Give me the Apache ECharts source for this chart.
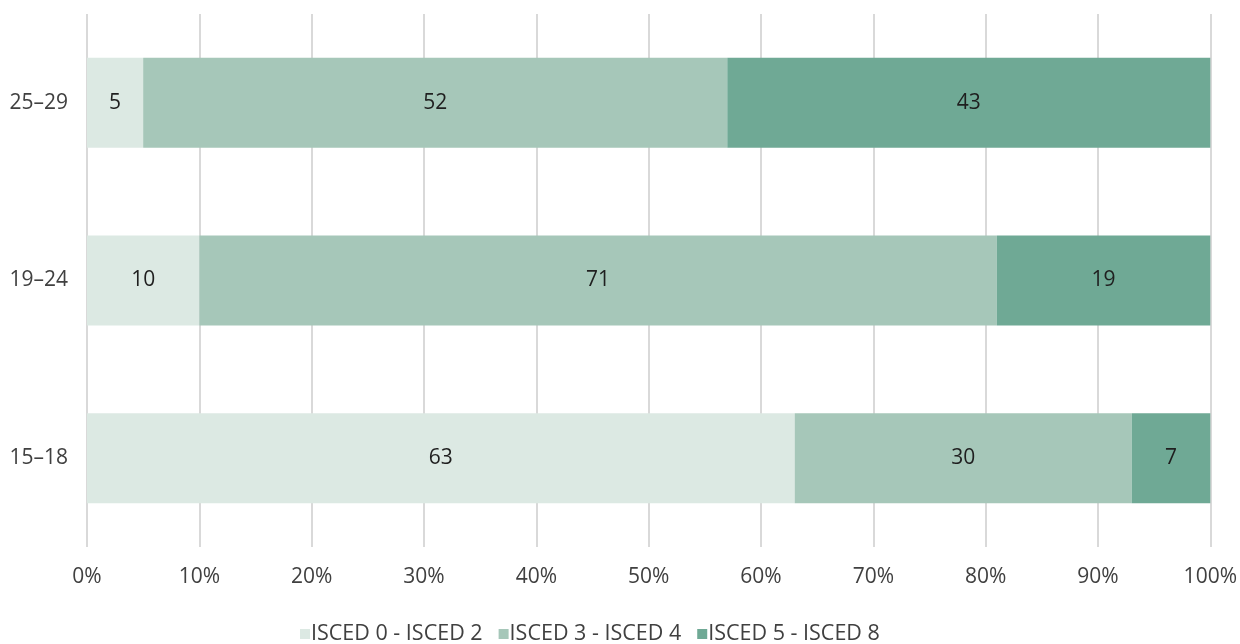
<!DOCTYPE html>
<html><head><meta charset="utf-8">
<script src="https://cdn.jsdelivr.net/npm/echarts@6/dist/echarts.min.js"></script>
<style>html,body{margin:0;padding:0;background:#fff}#c{width:1240px;height:644px}</style>
</head><body><div id="c"></div>
<script>
const categories = ['15–18', '19–24', '25–29'];
const seriesNames = ['ISCED 0 - ISCED 2', 'ISCED 3 - ISCED 4', 'ISCED 5 - ISCED 8'];
const isced02 = [63, 10, 5];
const isced34 = [30, 71, 52];
const isced58 = [7, 19, 43];
const colors = ['#dce9e3', '#a6c7b9', '#6fa995'];
const font = '"Open Sans", "Noto Sans", sans-serif';

const chart = echarts.init(document.getElementById('c'));
const mk = (name, data, i) => ({
  name, type: 'bar', stack: 't', data, barWidth: 90,
  itemStyle: { color: colors[i] },
  label: { show: true, position: 'inside', color: '#1f1f1f', fontSize: 21, fontFamily: font },
  emphasis: { disabled: true }
});
chart.setOption({
  animation: false,
  grid: { left: 87, right: 27, top: 14, bottom: 97 },
  xAxis: {
    type: 'value', min: 0, max: 100, interval: 10,
    axisLabel: { formatter: '{value}%', color: '#404040', fontSize: 21, fontFamily: font, margin: 20 },
    splitLine: { lineStyle: { color: '#d9d9d9', width: 2 } },
    axisLine: { show: false }, axisTick: { show: false }
  },
  yAxis: {
    type: 'category', data: categories,
    axisLabel: { color: '#404040', fontSize: 21, fontFamily: font, margin: 19 },
    axisLine: { show: false }, axisTick: { show: false }
  },
  legend: {
    bottom: -6, left: 295, itemWidth: 10, itemHeight: 10, itemGap: 16,
    icon: 'rect',
    textStyle: { color: '#404040', fontSize: 21.5, fontFamily: font, padding: [0, 0, 0, -4] },
    data: seriesNames
  },
  series: [mk(seriesNames[0], isced02, 0), mk(seriesNames[1], isced34, 1), mk(seriesNames[2], isced58, 2)]
});
</script></body></html>
